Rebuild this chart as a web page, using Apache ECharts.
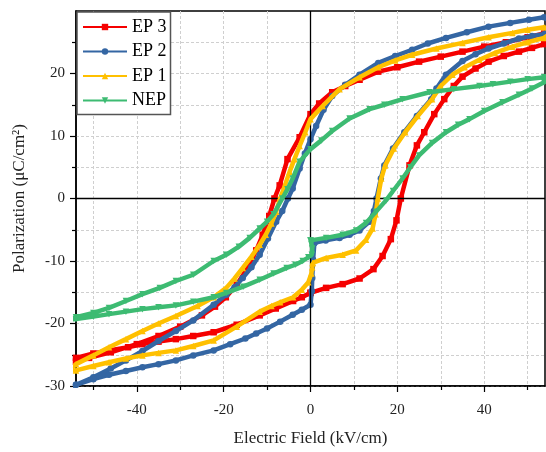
<!DOCTYPE html>
<html>
<head>
<meta charset="utf-8">
<script src="https://cdn.jsdelivr.net/npm/echarts@6/dist/echarts.min.js"></script>
<style>html,body{margin:0;padding:0;background:#fff}#c{width:546px;height:452px}</style>
</head>
<body>
<div id="c"></div>
<script>
// Tick labels
const xMajorTicks = [-40, -20, 0, 20, 40];
const xMinorTicks = [-50, -30, -10, 10, 30, 50];
const yMajorTicks = [-30, -20, -10, 0, 10, 20];
const seriesNames = ['EP 3', 'EP 2', 'EP 1', 'NEP'];

// [E (kV/cm), P (uC/cm^2)]
const ep3 = [
[0,-15.1],[3.6,-14.3],[7.4,-13.7],[11.3,-12.8],[14.5,-11.3],[16.6,-9.2],[18.5,-6.5],[19.8,-3.5],[20.8,0],[22.8,5.3],[24.5,8.5],[26.2,10.6],[28.5,13.5],[30.8,15.9],[33,18],[35,19.5],[38,20.8],[41,21.9],[44.5,22.8],[48,23.5],[51,24.1],[53.8,24.7],[56,25.8],
[53.8,26.4],[50,25.8],[45,25.0],[40,24.3],[35,23.5],[30,22.7],[25,21.9],[20,21.0],[15.6,20.3],[11.3,19.0],[8,18.0],[5,17.0],[2,15.2],[0,13.5],[-2.5,9.8],[-5.3,6.3],[-7.1,2.1],[-8.3,0],[-9.5,-2.8],[-11,-5.8],[-12.5,-8.3],[-14,-10.6],[-17,-13.8],[-19.5,-15.8],[-22,-17.3],[-25,-18.7],[-30,-20.5],[-35,-22],[-40,-23.3],[-46,-24.6],[-51,-25.5],[-54,-26.1],[-56,-26.3],
[-54,-25.5],[-50,-24.8],[-46.4,-24.3],[-42,-23.8],[-38.7,-23.3],[-35,-22.9],[-31,-22.5],[-27,-22],[-22.3,-21.4],[-17,-20.2],[-11.7,-18.7],[-8,-17.6],[-4,-16.4],[-2,-15.8],[0,-15.1]
];
const ep2 = [
[0.9,-7.1],[3.5,-6.7],[6.7,-6.3],[9,-5.8],[11.3,-5.1],[13.6,-3.7],[14.6,-2],[15.2,0],[16.2,3.2],[17,5.3],[19,8],[21.6,10.6],[24.5,13.2],[27.8,15.9],[29,17.6],[31.2,19.8],[35,22],[38,23.1],[41,24],[44.5,24.8],[48,25.6],[51,26.0],[53.8,26.3],[56,27.8],
[53.8,29.0],[50.3,28.6],[46,28.1],[41,27.5],[36,26.6],[31.2,25.7],[27,24.8],[23.4,23.8],[19.5,22.8],[15.6,21.7],[11.3,19.8],[8,18.2],[5,16.4],[3,14.2],[1.3,11.6],[0,9.5],[-1.3,7.2],[-2.5,4.8],[-4.1,1.6],[-5.2,0],[-6.5,-2],[-7.9,-3.7],[-9.8,-6.4],[-11.7,-9],[-13.6,-11],[-15.6,-12.7],[-17.5,-14.2],[-19.4,-15.4],[-22.3,-17],[-27,-19.5],[-31,-21.2],[-35,-22.8],[-38.7,-24.4],[-42.5,-25.9],[-46,-27.2],[-50,-28.6],[-54,-29.8],[-56,-30.2],
[-54,-29.8],[-50,-28.9],[-46.4,-28.2],[-42.5,-27.6],[-38.7,-27],[-35,-26.5],[-31,-25.9],[-27,-25.1],[-22.3,-24.3],[-18.5,-23.3],[-15,-22.4],[-12.5,-21.6],[-10,-20.8],[-7,-19.7],[-4.1,-18.6],[-2,-17.8],[0,-17],[0.3,-14.8],[0.4,-12.7],[0.6,-9.8],[0.9,-7.1]
];
const ep1 = [
[0.5,-10.3],[3.6,-9.5],[7.4,-9],[10.5,-8.3],[12.8,-6.6],[14.3,-4.8],[15,-2.5],[15.5,0],[16.3,3.2],[17.2,5.3],[19.2,8],[21.8,10.6],[24.7,13.2],[28,15.9],[30,18],[32.7,19.8],[35.5,21],[38.9,22.2],[42.5,23.3],[46.5,24.3],[50,25],[53.8,25.7],[56,26.8],
[53.8,27.4],[50,27],[46.5,26.5],[41,25.8],[35,24.9],[29,24],[23.4,23],[19.5,22.1],[15.6,21],[11.3,19.4],[6.7,17.5],[2.8,14.8],[0,12.7],[-1.2,10.6],[-2.5,8.4],[-3.7,6.3],[-4.8,4.3],[-6.4,1.1],[-7,0],[-7.9,-2.1],[-9,-4],[-10.3,-5.8],[-11.7,-7.4],[-13.6,-9.3],[-15.6,-11.1],[-17.5,-12.8],[-19.4,-14.3],[-22.3,-15.8],[-26,-17.2],[-31,-18.8],[-35,-20],[-38.7,-21.2],[-42.5,-22.5],[-46.4,-23.8],[-50,-25.1],[-54,-26.5],[-56,-27.6],
[-54,-27.5],[-50,-26.8],[-46.4,-26.2],[-42.5,-25.6],[-38.7,-25.1],[-35,-24.7],[-31,-24.3],[-27,-23.6],[-22.3,-22.7],[-17,-20.5],[-11.7,-18.1],[-9,-17.2],[-7,-16.6],[-4,-15.8],[-2,-14.6],[-0.5,-13.4],[0.2,-12],[0.4,-11],[0.5,-10.3]
];
const nep = [
[0,-6.7],[3.6,-6.3],[7.4,-5.8],[10.5,-5.1],[12.8,-3.9],[15.1,-2.1],[17.4,-0.3],[19,1.2],[21.2,3.2],[23,5],[25,6.9],[28,8.9],[31.2,10.6],[34,11.8],[36.6,12.7],[40,14],[44.2,15.4],[48,16.6],[51,17.6],[53.8,18.6],[56,19.3],
[53.8,19.4],[50,19.1],[46,18.7],[42,18.3],[38.9,18],[33,17.5],[27.4,17],[21.2,15.9],[17,15],[13.6,14.3],[9,12.8],[5,10.8],[2.5,9.3],[0,7.9],[-2.5,5.9],[-4.1,3.2],[-5.3,1.5],[-6.5,0],[-8.5,-2.5],[-10,-3.7],[-11.7,-4.8],[-14,-6.3],[-16.5,-7.7],[-19.4,-9],[-22.3,-10],[-27,-12.2],[-31,-13.2],[-34.7,-14.3],[-38.7,-15.3],[-42.5,-16.4],[-46.4,-17.5],[-50,-18.3],[-54,-19],[-56,-19.4],
[-54,-19.3],[-50,-18.9],[-46.4,-18.5],[-42.5,-18.1],[-38.7,-17.7],[-35,-17.4],[-31,-17.1],[-27,-16.5],[-22.3,-15.8],[-19.4,-15.1],[-15.5,-14.1],[-11.7,-13],[-8.5,-12],[-5.5,-11.1],[-3.5,-10.6],[-1.8,-10],[-0.5,-9.4],[0.3,-9],[0.4,-8],[0.2,-7.2],[0,-6.7]
];

const colors = ['#f50000', '#3466a3', '#ffc000', '#3dbb72'];
const symbols = ['rect', 'circle', 'triangle', 'triangle'];
const rotations = [0, 0, 0, 180];
const datasets = [ep3, ep2, ep1, nep];

const FONT = '"Liberation Serif", "Times New Roman", serif';
const gridLine = { show: true, lineStyle: { color: '#cfcfcf', type: [3, 2], width: 1 } };

const chart = echarts.init(document.getElementById('c'), null, { renderer: 'canvas' });

const series = datasets.map((d, i) => ({
  name: seriesNames[i],
  type: 'line',
  data: d,
  xAxisIndex: 0,
  yAxisIndex: 0,
  symbol: symbols[i],
  symbolRotate: rotations[i],
  symbolSize: 6.5,
  showSymbol: true,
  clip: true,
  lineStyle: { color: colors[i], width: 4.5 },
  itemStyle: { color: colors[i] },
  z: 3 + i,
  animation: false
}));
series[0].markLine = {
  silent: true,
  symbol: ['none', 'none'],
  label: { show: false },
  lineStyle: { color: '#000', width: 1.3, type: 'solid' },
  data: [{ xAxis: 0 }, { yAxis: 0 }],
  animation: false
};

chart.setOption({
  animation: false,
  backgroundColor: '#fff',
  textStyle: { fontFamily: FONT },
  grid: { left: 76, right: 1, top: 11, bottom: 63, show: true, borderColor: '#000', borderWidth: 1.5, backgroundColor: 'transparent' },
  legend: {
    data: seriesNames,
    orient: 'vertical',
    left: 77, top: 12,
    padding: [6, 4, 5, 5],
    itemGap: 6.5,
    itemWidth: 44, itemHeight: 8,
    backgroundColor: '#fff',
    borderColor: '#555', borderWidth: 1.5,
    lineStyle: { width: 2 },
    textStyle: { fontFamily: FONT, fontSize: 18, color: '#000', padding: [0, 0, 0, 0], lineHeight: 18 }
  },
  xAxis: [
    {
      type: 'value', min: -54, max: 54,
      name: 'Electric Field (kV/cm)', nameLocation: 'middle', nameGap: 44,
      nameTextStyle: { fontFamily: FONT, fontSize: 17, color: '#222' },
      axisLine: { show: true, onZero: false, lineStyle: { color: '#000', width: 1.5 } },
      axisTick: { show: true, customValues: xMajorTicks, length: 6, lineStyle: { color: '#000', width: 1.2 } },
      axisLabel: { customValues: xMajorTicks, fontFamily: FONT, fontSize: 15, color: '#222', margin: 17 },
      splitLine: gridLine
    },
    {
      type: 'value', min: -54, max: 54, position: 'bottom',
      axisLine: { show: false, onZero: false },
      axisTick: { show: true, customValues: xMinorTicks, length: 4, lineStyle: { color: '#000', width: 1.2 } },
      axisLabel: { show: false, customValues: xMinorTicks },
      splitLine: gridLine
    }
  ],
  yAxis: [{
    type: 'value', min: -30, max: 30, interval: 10,
    name: 'Polarization (μC/cm²)', nameLocation: 'middle', nameGap: 48,
    nameTextStyle: { fontFamily: FONT, fontSize: 17, color: '#222' },
    axisLine: { show: true, onZero: false, lineStyle: { color: '#000', width: 1.5 } },
    axisTick: { show: true, customValues: yMajorTicks, length: 6, lineStyle: { color: '#000', width: 1.2 } },
    minorTick: { show: true, splitNumber: 2, length: 4, lineStyle: { color: '#000', width: 1.2 } },
    axisLabel: { customValues: yMajorTicks, fontFamily: FONT, fontSize: 15, color: '#222', margin: 11 },
    splitLine: gridLine,
    minorSplitLine: gridLine
  }],
  series: series
});
</script>
</body>
</html>
